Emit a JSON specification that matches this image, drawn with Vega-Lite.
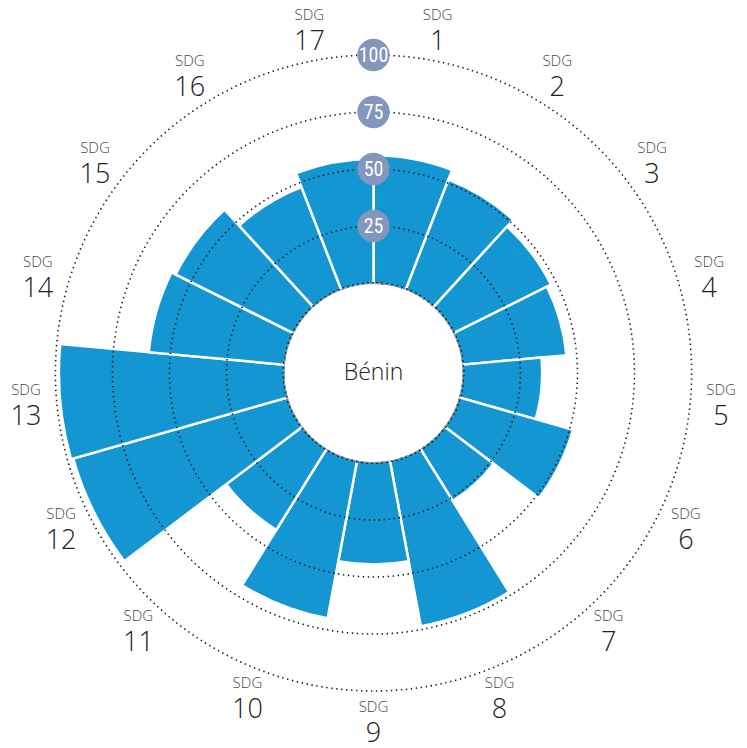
{
  "$schema": "https://vega.github.io/schema/vega-lite/v6.json",
  "width": 747,
  "height": 746,
  "padding": {"left": 0, "top": 0, "right": 0, "bottom": 2},
  "autosize": {"type": "none"},
  "background": "white",
  "config": {"view": {"stroke": null}},
  "resolve": {"scale": {"theta": "independent"}},
  "datasets": {
    "sdg": [
      {"sdg": 1, "value": 56},
      {"sdg": 2, "value": 51.5},
      {"sdg": 3, "value": 47.5},
      {"sdg": 4, "value": 45.5},
      {"sdg": 5, "value": 34.5},
      {"sdg": 6, "value": 51.5},
      {"sdg": 7, "value": 26.5},
      {"sdg": 8, "value": 73.5},
      {"sdg": 9, "value": 44.5},
      {"sdg": 10, "value": 70},
      {"sdg": 11, "value": 41.5},
      {"sdg": 12, "value": 97.5},
      {"sdg": 13, "value": 98.5},
      {"sdg": 14, "value": 59.5},
      {"sdg": 15, "value": 57.5},
      {"sdg": 16, "value": 48},
      {"sdg": 17, "value": 54.5}
    ],
    "rings": [{"v": 25}, {"v": 50}, {"v": 75}, {"v": 100}],
    "country": [{"name": "Bénin"}]
  },
  "layer": [
    {
      "data": {"name": "sdg"},
      "transform": [
        {"aggregate": [{"op": "count", "as": "n"}, {"op": "max", "field": "value", "as": "value"}], "groupby": ["sdg"]},
        {"stack": "n", "groupby": [], "sort": [{"field": "sdg", "order": "ascending"}], "as": ["t0", "t1"]}
      ],
      "mark": {"type": "arc", "color": "#1496D3", "stroke": "white", "strokeWidth": 2.5},
      "encoding": {
        "theta": {"field": "t0", "type": "quantitative", "stack": null, "scale": {"domain": [0, 17]}},
        "theta2": {"field": "t1"},
        "radius": {"field": "value", "type": "quantitative", "stack": null, "scale": {"type": "linear", "domain": [0, 100], "range": [90, 318], "zero": false}},
        "radius2": {"value": 88}
      }
    },
    {
      "data": {"name": "rings"},
      "mark": {"type": "arc", "filled": false, "stroke": "#1a1a1a", "strokeWidth": 1.6, "strokeDash": [1.4, 3.6], "theta": 0, "theta2": 6.2832},
      "encoding": {
        "radius": {"field": "v", "type": "quantitative", "stack": null}
      }
    },
    {
      "data": {"name": "country"},
      "mark": {"type": "arc", "filled": false, "stroke": "#9a9a9a", "strokeWidth": 1, "theta": 0, "theta2": 6.2832},
      "encoding": {
        "radius": {"value": 89.5}
      }
    },
    {
      "data": {"name": "country"},
      "mark": {"type": "text", "font": "Open Sans", "fontWeight": 300, "fontSize": 23, "color": "#222222", "baseline": "middle", "align": "center"},
      "encoding": {
        "theta": {"value": 0},
        "radius": {"value": 0},
        "text": {"field": "name"}
      }
    },
    {
      "data": {"name": "rings"},
      "mark": {"type": "circle", "size": 1050, "color": "#8496BE", "opacity": 1},
      "encoding": {
        "y": {"field": "v", "type": "quantitative", "scale": {"domain": [0, 100], "range": [283, 55]}, "axis": null}
      }
    },
    {
      "data": {"name": "rings"},
      "mark": {"type": "text", "font": "Roboto Condensed, Liberation Sans Narrow, Open Sans", "fontSize": 20, "color": "white", "baseline": "middle", "align": "center", "dy": 1},
      "encoding": {
        "y": {"field": "v", "type": "quantitative"},
        "text": {"field": "v", "type": "quantitative"}
      }
    },
    {
      "data": {"name": "sdg"},
      "mark": {"type": "text", "font": "Open Sans", "fontWeight": 300, "fontSize": 15, "color": "#444444", "baseline": "middle", "align": "center", "dy": -15},
      "encoding": {
        "theta": {"field": "sdg", "type": "quantitative", "stack": null, "scale": {"domain": [0.5, 17.5]}},
        "radius": {"value": 349},
        "text": {"value": "SDG"}
      }
    },
    {
      "data": {"name": "sdg"},
      "mark": {"type": "text", "font": "Open Sans", "fontWeight": 300, "fontSize": 27, "color": "#222222", "baseline": "middle", "align": "center", "dy": 12},
      "encoding": {
        "theta": {"field": "sdg", "type": "quantitative", "stack": null, "scale": {"domain": [0.5, 17.5]}},
        "radius": {"value": 349},
        "text": {"field": "sdg", "type": "nominal"}
      }
    }
  ]
}
